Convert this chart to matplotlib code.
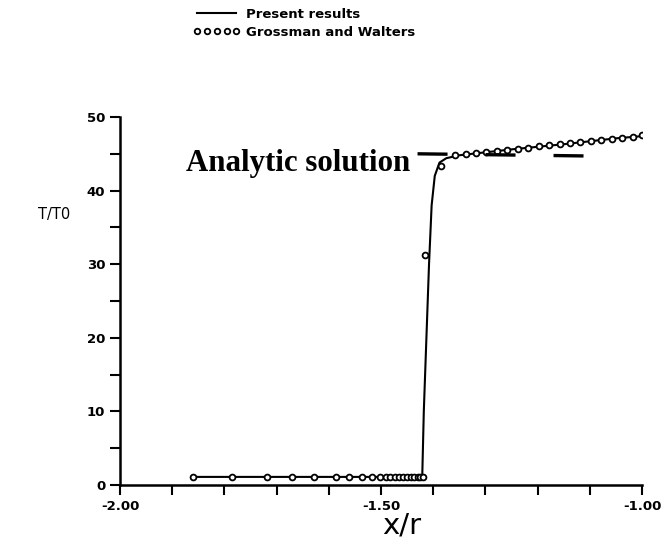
import numpy as np
import matplotlib.pyplot as plt
from matplotlib.lines import Line2D

# present results (solid line)
present_x = [-1.861, -1.70, -1.55, -1.421, -1.418, -1.413, -1.408, -1.403, -1.397, -1.388,
             -1.375, -1.35, -1.25, -1.15, -1.05, -1.0]
present_y = [1.1, 1.1, 1.1, 1.1, 10.0, 20.0, 30.0, 38.0, 42.0, 43.8,
             44.4, 44.8, 45.6, 46.3, 47.1, 47.4]

# Grossman and Walters (open markers)
gw_x = [-1.861, -1.785, -1.718, -1.670, -1.629, -1.587, -1.562, -1.536, -1.517, -1.501,
        -1.490, -1.482, -1.474, -1.466, -1.458, -1.450, -1.443, -1.436, -1.430, -1.425, -1.420,
        -1.415, -1.386,
        -1.358, -1.338, -1.318, -1.298, -1.278, -1.258, -1.238, -1.218, -1.198, -1.178,
        -1.158, -1.138, -1.118, -1.098, -1.078, -1.058, -1.038, -1.018, -1.000]
gw_y = [1.1, 1.1, 1.1, 1.1, 1.1, 1.1, 1.1, 1.1, 1.1, 1.1,
        1.1, 1.1, 1.1, 1.1, 1.1, 1.1, 1.1, 1.1, 1.1, 1.1, 1.1,
        31.3, 43.3,
        44.8, 44.95, 45.1, 45.25, 45.4, 45.55, 45.7, 45.85, 46.0, 46.15,
        46.3, 46.45, 46.6, 46.75, 46.9, 47.05, 47.2, 47.35, 47.5]

# analytic solution (dashed)
analytic_x = [-1.43, -1.10]
analytic_y = [45.0, 44.7]

plt.rcParams['font.family'] = 'DejaVu Sans'

fig = plt.figure(figsize=(6.64, 5.56), dpi=100)
ax = fig.add_axes([120/664, 1-485/556, (642-120)/664, (485-117)/556])

ax.plot(present_x, present_y, color='black', lw=1.5, label='Present results')
ax.plot(gw_x, gw_y, ls='none', marker='o', ms=4.2, mfc='white', mec='black', mew=1.3,
        label='Grossman and Walters')
ax.plot(analytic_x, analytic_y, color='black', lw=2.4, dashes=(9, 11.4), solid_capstyle='butt')

ax.text(-1.874, 43.7, 'Analytic solution', family='Liberation Serif', weight='bold',
        fontsize=22.2, va='center', ha='left')

ax.set_xlim(-2.0, -1.0)
ax.set_ylim(0, 50)
ax.set_xticks([-2.0, -1.5, -1.0])
ax.set_xticklabels(['-2.00', '-1.50', '-1.00'])
ax.set_xticks(np.arange(-2.0, -0.99, 0.1), minor=True)
ax.set_yticks([0, 10, 20, 30, 40, 50])
ax.set_yticks(np.arange(0, 51, 5), minor=True)
ax.tick_params(which='both', direction='out', length=7, width=1.5, labelsize=9.5)
for lab in ax.get_xticklabels() + ax.get_yticklabels():
    lab.set_fontweight('bold')
ax.spines['top'].set_visible(False)
ax.spines['right'].set_visible(False)
ax.spines['left'].set_linewidth(1.8)
ax.spines['bottom'].set_linewidth(1.8)

fig.text(38/664, 1-215/556, 'T/T0', fontsize=10.5, ha='left', va='center')
fig.text(402/664, 1-526/556, 'x/r', fontsize=21, ha='center', va='center')

handles = [Line2D([], [], color='black', lw=1.5),
           Line2D([], [], ls='none', marker='o', ms=4, mfc='white', mec='black', mew=1.3)]
fig.legend(handles, ['Present results', 'Grossman and Walters'], loc='upper left',
           bbox_to_anchor=(181/664, 1.007), frameon=False, numpoints=5, handlelength=3.6,
           handletextpad=0.4, labelspacing=0.35, prop={'weight': 'bold', 'size': 9.5})

fig.savefig('out.png', dpi=100)
